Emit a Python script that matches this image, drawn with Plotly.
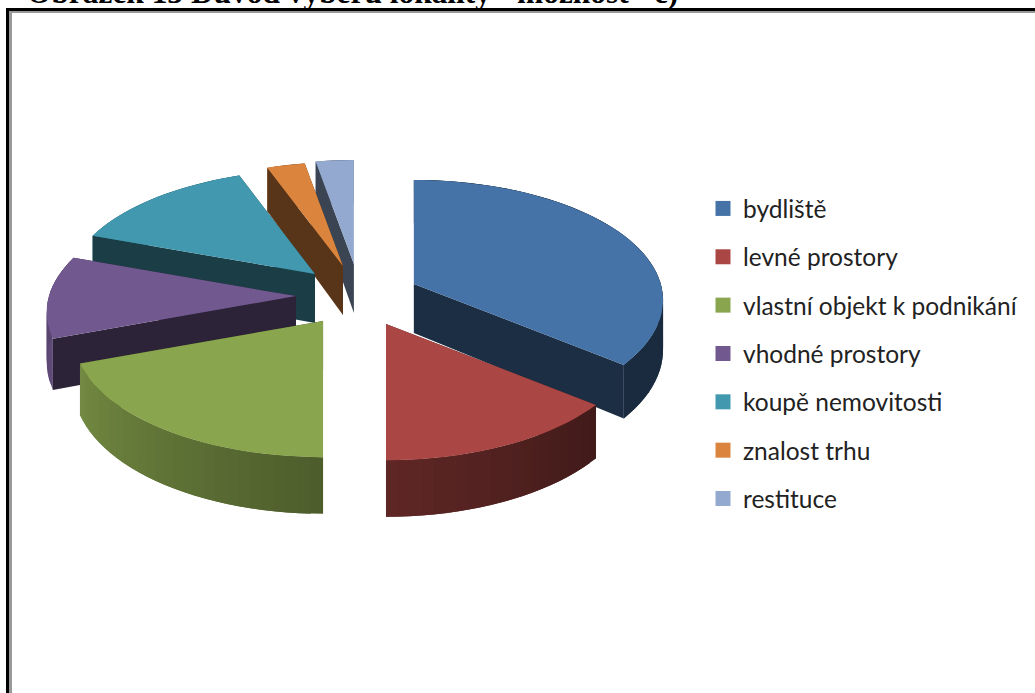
import numpy as np
import plotly.graph_objects as go

categories = ["bydliště", "levné prostory", "vlastní objekt k podnikání",
              "vhodné prostory", "koupě nemovitosti", "znalost trhu", "restituce"]
values = [35.8, 14.2, 19.4, 11.1, 13.9, 2.8, 2.8]
pulls = [0.27, 0.264, 0.237, 0.231, 0.248, 0.266, 0.281]
pull_turns = [3.2, -3.8, -5.1, 0, 5.6, 6, 5.8]
colors = [(69, 114, 167), (170, 70, 67), (137, 165, 78), (113, 88, 143),
          (65, 152, 175), (219, 132, 61), (147, 169, 207)]
draw_order = [6, 5, 4, 3, 0, 2, 1]
title_text = 'Obrázek 13 Důvod výběru lokality - možnost "c)'

CX, CY = 353, 296
RX, RY, PERSP, DEPTH = 247, 118, 0.134, 49


def persp(Y):
    return 1 / (1 - PERSP * np.asarray(Y, dtype=float))


def project(X, Y):
    k = persp(Y)
    return np.asarray(X) * RX * k, np.asarray(Y) * RY * k


def css(c, f=1.0):
    return "rgb(%d,%d,%d)" % tuple(min(255, round(v * f)) for v in c)


def rim_shade(theta):
    return float(np.interp(theta, [90, 130, 180, 250, 290], [0.38, 0.38, 0.56, 0.84, 0.72]))


fig = go.Figure()


def poly(xs, ys, col):
    fig.add_trace(go.Scatter(x=list(xs), y=list(ys), mode="lines", fill="toself",
                             fillcolor=col, line=dict(color=col, width=0),
                             hoverinfo="skip", showlegend=False))


edges = np.concatenate([[0], np.cumsum(values)]) / sum(values) * 360
for i in draw_order:
    a0, a1 = edges[i], edges[i + 1]
    mid = np.radians((a0 + a1) / 2 + pull_turns[i])
    ex, ey = project(pulls[i] * np.sin(mid), -pulls[i] * np.cos(mid))
    ax, ay = CX + ex, CY + ey
    th = np.linspace(a0, a1, max(3, int((a1 - a0) / 2.5) + 2))
    X, Y = np.sin(np.radians(th)), -np.cos(np.radians(th))
    px, py = project(X, Y)
    rx, ry = ax + px, ay + py
    d = DEPTH * persp(Y)

    def face(j):
        poly([ax, rx[j], rx[j], ax], [ay, ry[j], ry[j] + d[j], ay + DEPTH],
             css(colors[i], 0.40))

    start_front = -np.cos(np.radians(a0 - 90)) > 1e-6
    end_front = -np.cos(np.radians(a1 + 90)) > 1e-6
    if not start_front:
        face(0)
    if not end_front:
        face(-1)
    # outer wall: each strip runs into the next one so that no seams show
    n = len(th)
    for j in range(n - 1):
        k = min(j + 2, n - 1)
        seg = np.arange(j, k + 1)
        poly(np.r_[rx[seg], rx[seg][::-1]], np.r_[ry[seg], (ry + d)[seg][::-1]],
             css(colors[i], rim_shade((th[j] + th[j + 1]) / 2)))
    if start_front:
        face(0)
    if end_front:
        face(-1)
    # top
    poly(np.r_[ax, rx], np.r_[ay, ry], css(colors[i]))

for name, c in zip(categories, colors):
    fig.add_trace(go.Scatter(x=[None], y=[None], mode="markers", name=name, legendgroup=name,
                             marker=dict(symbol="square", size=15, color=css(c)),
                             hoverinfo="skip"))

fig.update_layout(
    width=1035, height=693, margin=dict(l=0, r=0, t=0, b=0),
    paper_bgcolor="white", plot_bgcolor="white",
    xaxis=dict(range=[0, 1035], visible=False, fixedrange=True),
    yaxis=dict(range=[693, 0], visible=False, fixedrange=True),
    legend=dict(x=703 / 1035, y=1 - 186 / 693, xanchor="left", yanchor="top",
                font=dict(family="Lato", size=24.5, color="#222"),
                tracegroupgap=13.5, bgcolor="rgba(0,0,0,0)", itemwidth=30),
    shapes=[
        dict(type="line", xref="x", yref="y", x0=7.5, x1=7.5, y0=8, y1=700, line=dict(color="black", width=3)),
        dict(type="line", xref="x", yref="y", x0=6, x1=1040, y0=9.5, y1=9.5, line=dict(color="black", width=3)),
        dict(type="line", xref="x", yref="y", x0=10.5, x1=10.5, y0=11, y1=700, line=dict(color="#999", width=3)),
        dict(type="line", xref="x", yref="y", x0=9, x1=1040, y0=12, y1=12, line=dict(color="#999", width=2)),
    ],
    annotations=[dict(text="<b>" + title_text + "</b>", xref="x", yref="y", x=25, y=12,
                      xanchor="left", yanchor="bottom", showarrow=False,
                      font=dict(family="Liberation Serif", size=31.4, color="black"))],
)
fig.write_html("out.html", config={"displayModeBar": False},
               post_script="document.body.style.margin='0';document.documentElement.style.overflow='hidden';")
